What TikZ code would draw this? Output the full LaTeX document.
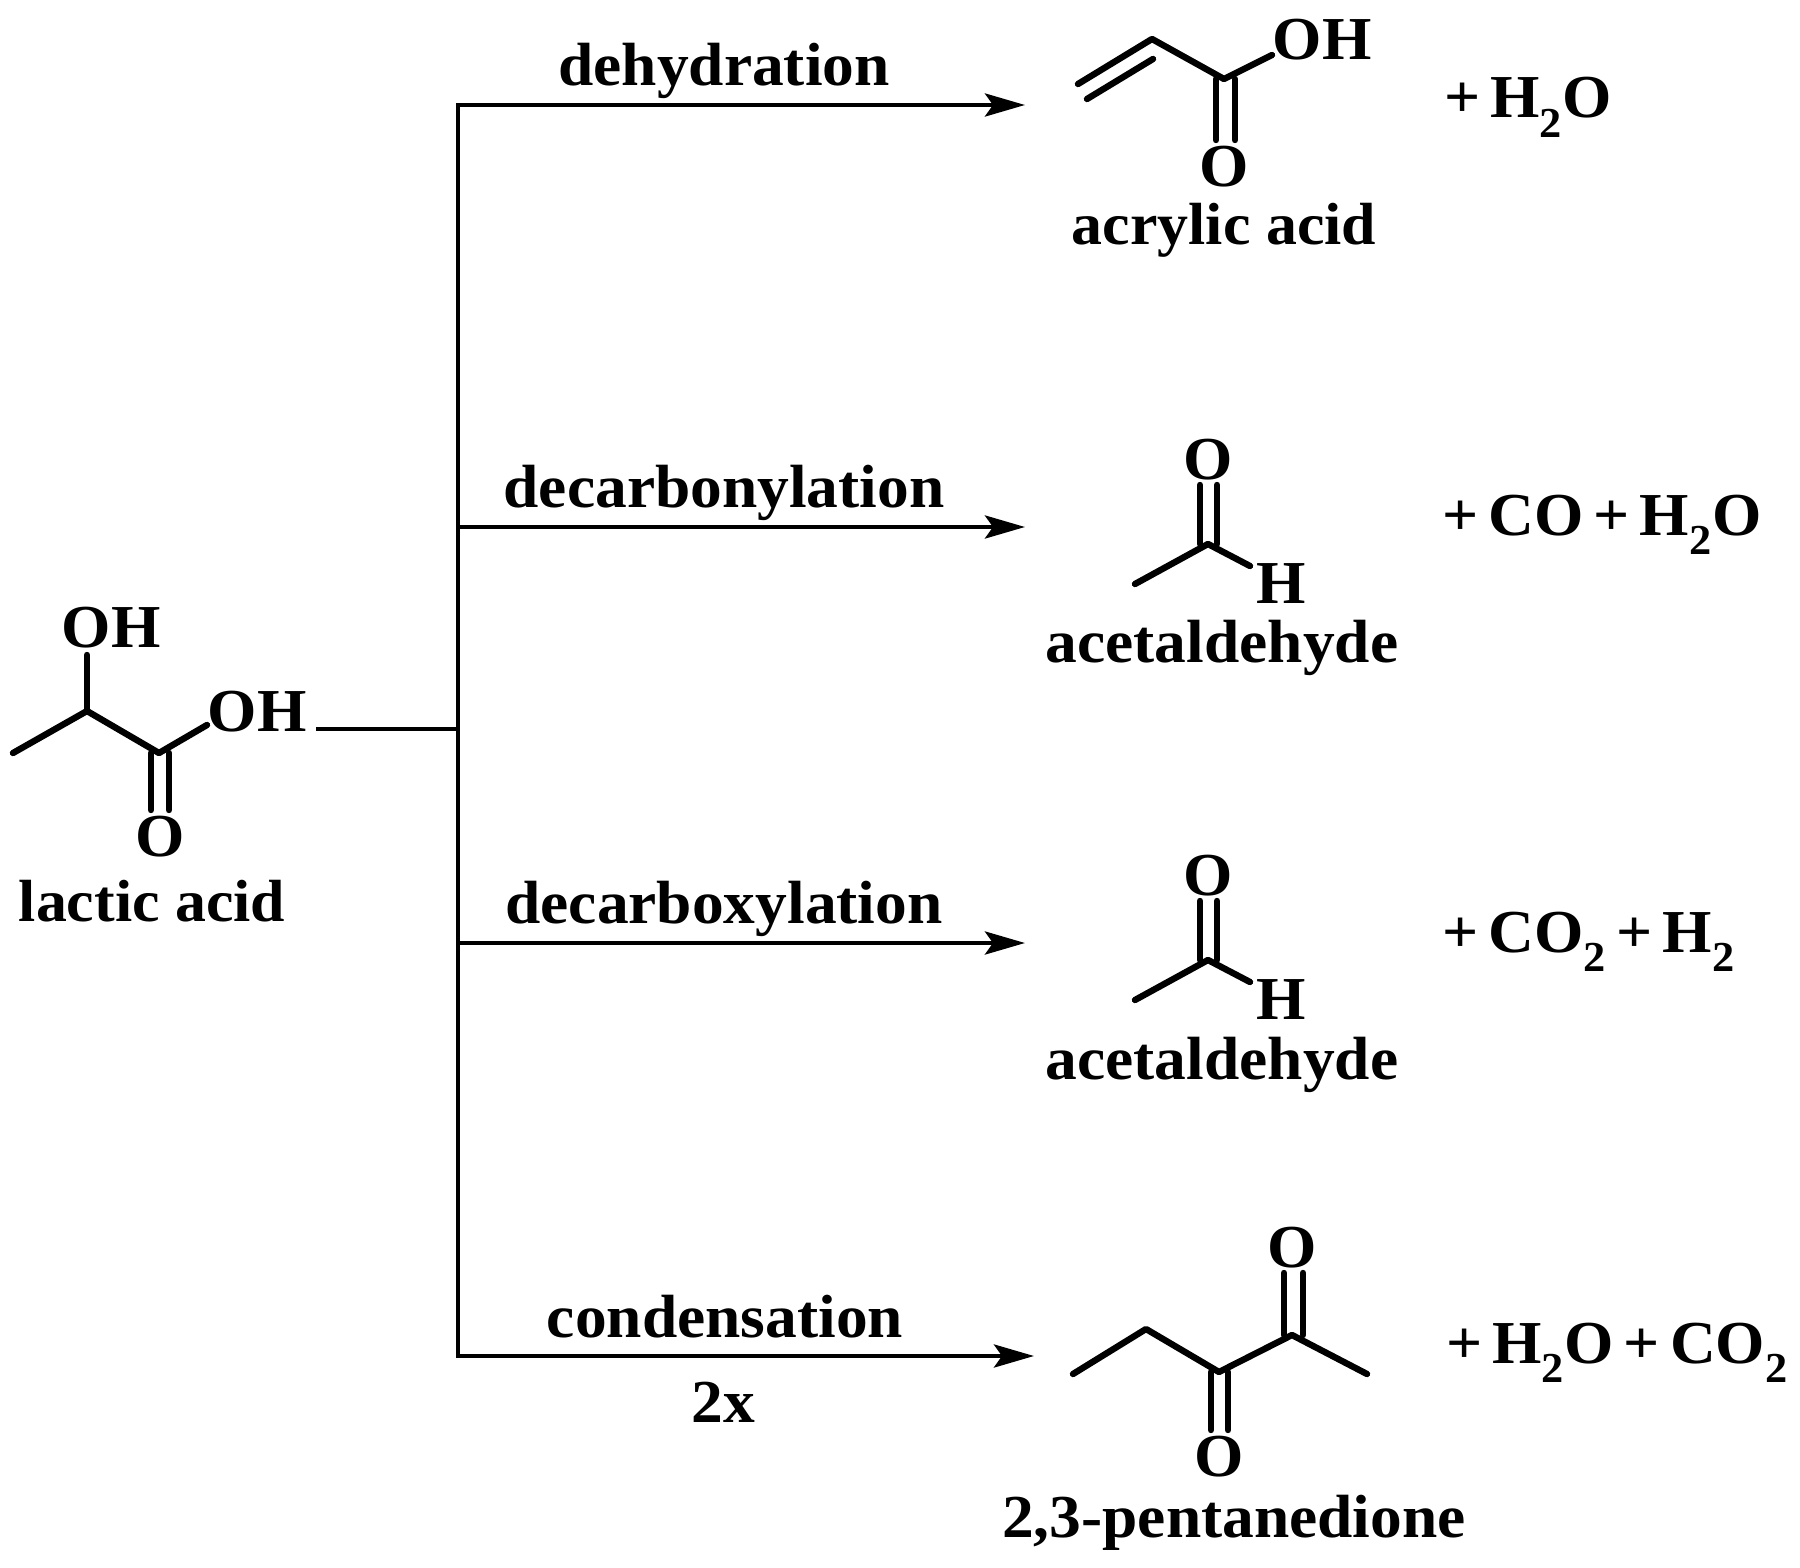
\documentclass[tikz,border=0pt]{standalone}
\usepackage{fontspec}
\setmainfont{Liberation Serif}[FakeStretch=1.04]
\usetikzlibrary{arrows.meta}
\tikzset{
  x=1pt,y=-1pt,
  chem/.style={inner sep=0pt,outer sep=0pt,font=\fontsize{61}{61}\selectfont\bfseries},
  lab/.style={chem,anchor=base},
  narrowlab/.style={lab,font=\fontsize{59.5}{60}\selectfont\bfseries},
  bond/.style={line width=6.4pt,line cap=round,line join=round},
  rail/.style={line width=4.6pt},
  arr/.style={line width=4.6pt,-{Stealth[length=40pt,width=23pt,inset=8pt]}}
}
\newcommand{\acetal}[2]{%
  \begin{scope}[shift={(#1,#2)}]
    \coordinate (m) at (1135,584);
    \coordinate (c) at (1208,544);
    \coordinate (h) at (1250,566);
    \draw[bond] (m) -- (c) -- (h);
    \draw[bond] (1200,544) -- (1200,485);
    \draw[bond] (1217,544) -- (1217,485);
  \end{scope}}
\begin{document}
\begin{tikzpicture}
\useasboundingbox (0,0) rectangle (1800,1568);
% rails
\coordinate (top) at (458,105);
\coordinate (bot) at (458,1356);
\coordinate (start) at (316,729);
\coordinate (mid) at (458,729);
\coordinate (t1) at (1025,105);
\coordinate (j2) at (458,527);
\coordinate (t2) at (1025,527);
\coordinate (j3) at (458,943);
\coordinate (t3) at (1025,943);
\coordinate (t4) at (1034,1356);
\draw[rail,line cap=rect] (top) -- (bot);
\draw[rail] (start) -- (mid);
\draw[arr] (top) -- (t1);
\draw[arr] (j2) -- (t2);
\draw[arr] (j3) -- (t3);
\draw[arr] (bot) -- (t4);
% labels
\node[lab] (l1) at (724,86) {dehydration};
\node[lab] (l2) at (724,507) {decarbonylation};
\node[lab] (l3) at (724,923) {decarboxylation};
\node[lab] (l4) at (725,1337) {condensation};
\node[lab] (l5) at (723,1422) {2x};
% lactic acid
\draw[bond] (13,753) -- (87,711) -- (159,753) -- (207,725);
\draw[bond] (87,711) -- (87,655);
\draw[bond] (151,753) -- (151,810);
\draw[bond] (169,753) -- (169,810);
\node[lab] (la) at (111,647) {OH};
\node[lab] (lb) at (257,731) {OH};
\node[lab] (lc) at (160,856) {O};
\node[narrowlab] (ln) at (152,921) {lactic acid};
% acrylic acid
\draw[bond] (1078,84) -- (1152,39) -- (1224,79) -- (1272,55);
\draw[bond] (1087,99) -- (1153,59);
\draw[bond] (1216,79) -- (1216,140);
\draw[bond] (1235,79) -- (1235,140);
\node[lab] (aa) at (1322,60) {OH};
\node[lab] (ab) at (1224,186) {O};
\node[narrowlab] (an) at (1224,244) {acrylic acid};
\node[lab,anchor=base west] (ap) at (1444,118) {+\,H\textsubscript{2}O};
% acetaldehyde 1
\acetal{0}{0}
\node[lab] (ba) at (1208,479) {O};
\node[lab] (bb) at (1281,603) {H};
\node[lab] (bn) at (1222,662) {acetaldehyde};
\node[lab,anchor=base west] (bp) at (1442,535) {+\,CO\,+\,H\textsubscript{2}O};
% acetaldehyde 2
\acetal{0}{416}
\node[lab] (ca) at (1208,895) {O};
\node[lab] (cb) at (1281,1019) {H};
\node[lab] (cn) at (1222,1079) {acetaldehyde};
\node[lab,anchor=base west] (cp) at (1442,952) {+\,CO\textsubscript{2}\,+\,H\textsubscript{2}};
% pentanedione
\draw[bond] (1073,1374) -- (1146,1329) -- (1219,1372) -- (1292,1335) -- (1367,1374);
\draw[bond] (1284,1335) -- (1284,1273);
\draw[bond] (1303,1335) -- (1303,1273);
\draw[bond] (1211,1372) -- (1211,1430);
\draw[bond] (1228,1372) -- (1228,1430);
\node[lab] (da) at (1292,1267) {O};
\node[lab] (db) at (1219,1476) {O};
\node[lab] (dn) at (1234,1537) {2,3-pentanedione};
\node[lab,anchor=base west] (dp) at (1446,1363) {+\,H\textsubscript{2}O\,+\,CO\textsubscript{2}};
\end{tikzpicture}
\end{document}
